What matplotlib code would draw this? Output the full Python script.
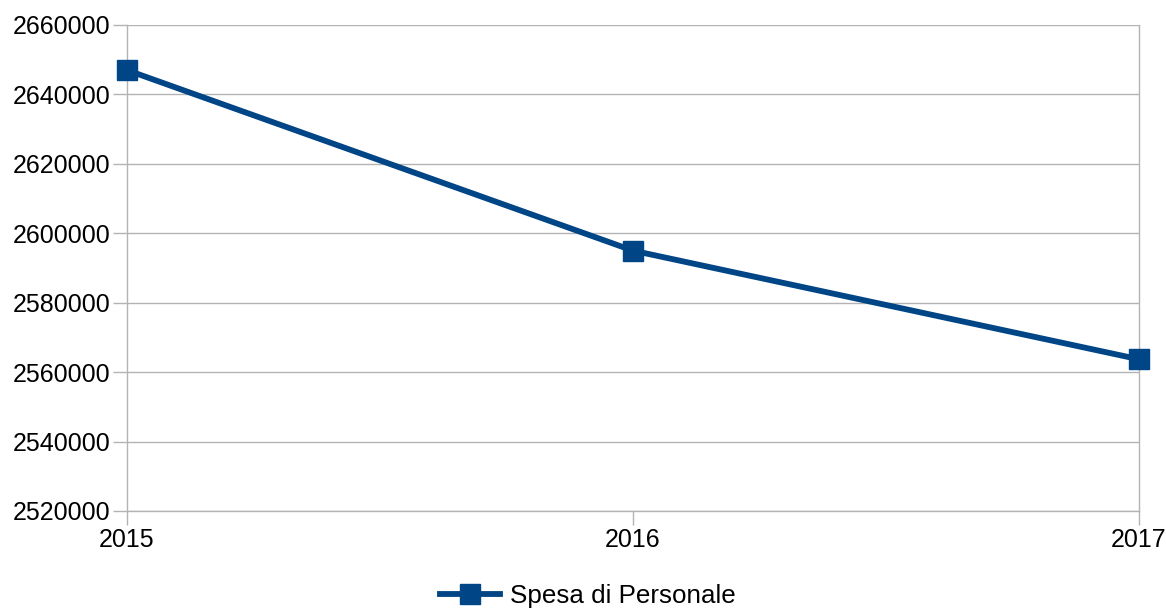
import matplotlib.pyplot as plt
from matplotlib.ticker import FixedLocator

plt.rcParams['font.family'] = ['Liberation Sans', 'DejaVu Sans']

years = [2015, 2016, 2017]
spesa = [2647000, 2595000, 2563700]
y_ticks = list(range(2520000, 2660001, 20000))

fig = plt.figure(figsize=(11.66, 6.08), dpi=100)
ax = fig.add_axes([127/1166, 1 - 511/608, (1139 - 127)/1166, (511 - 25)/608])

ax.plot(years, spesa, color='#004586', linewidth=4.2, marker='s', markersize=14,
        label='Spesa di Personale', zorder=3, clip_on=False)

ax.set_xlim(2015, 2017)
ax.set_ylim(2520000, 2660000)
ax.xaxis.set_major_locator(FixedLocator(years))
ax.set_xticklabels([str(y) for y in years])
ax.yaxis.set_major_locator(FixedLocator(y_ticks))
ax.set_yticklabels([str(v) for v in y_ticks])

ax.grid(axis='y', color='#b3b3b3', linewidth=1)
ax.set_axisbelow(True)
for side in ['left', 'right', 'bottom']:
    ax.spines[side].set_color('#b3b3b3')
    ax.spines[side].set_linewidth(1)
ax.spines['top'].set_visible(False)

ax.tick_params(axis='both', which='both', direction='out', length=10, width=1,
               color='#b3b3b3', labelsize=18, labelcolor='black')
ax.tick_params(axis='y', pad=2)
ax.tick_params(axis='x', pad=2)

fig.legend(loc='center', bbox_to_anchor=(588/1166, 1 - 596/608), frameon=False,
           fontsize=18.7, handlelength=2.3, handletextpad=0.4, borderaxespad=0)

fig.savefig('out.png', dpi=100)
